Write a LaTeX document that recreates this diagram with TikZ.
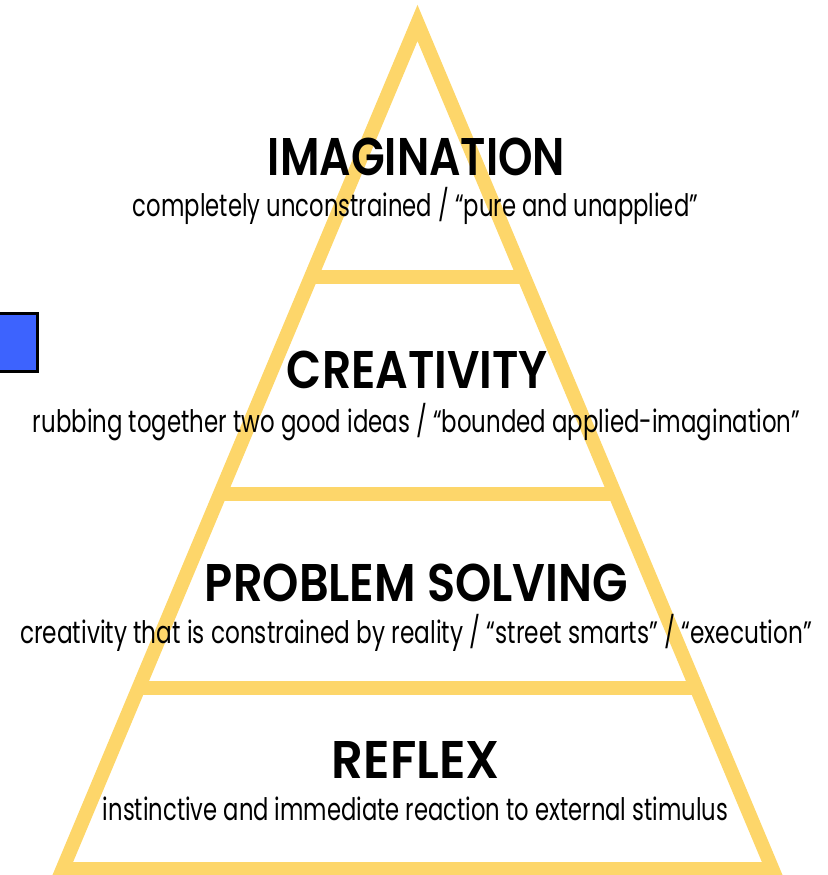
\documentclass[tikz,border=0pt]{standalone}
\usepackage{fontspec}
\usepackage{graphicx}
\setmainfont{Poppins}[BoldFont={Poppins SemiBold}]
\definecolor{pyr}{HTML}{FDD66A}
\definecolor{boxblue}{HTML}{3D63FE}
\newcommand\fitw[2]{\resizebox{#1}{\height}{#2}}
\tikzset{
  edge/.style={draw=pyr, line width=14pt, line join=miter, miter limit=10},
  bar/.style={draw=pyr, line width=14pt, line cap=butt},
  title/.style={anchor=base, inner sep=0pt, font=\fontsize{53}{53}\selectfont\bfseries},
  sub/.style={anchor=base, inner sep=0pt, font=\fontsize{31}{31}\selectfont},
}
\begin{document}
\begin{tikzpicture}[x=1pt, y=-1pt]
\useasboundingbox (0,0) rectangle (827,875);
\clip (0,0) rectangle (827,875);
\coordinate (apex) at (417.5,23);
\coordinate (bl) at (62.6,869);
\coordinate (br) at (772.4,869);
\coordinate (l1) at (310.9,277); \coordinate (r1) at (524.1,277);
\coordinate (l2) at (219.9,494); \coordinate (r2) at (615.1,494);
\coordinate (l3) at (138.5,688); \coordinate (r3) at (696.5,688);
\draw[edge] (bl) -- (apex) -- (br) -- cycle;
\draw[bar] (l1) -- (r1);
\draw[bar] (l2) -- (r2);
\draw[bar] (l3) -- (r3);
\node[draw=black, line width=3pt, fill=boxblue, minimum width=45pt, minimum height=58pt, inner sep=0pt] (blue) at (15,342.5) {};
\node[title] (t1) at (416.5,175) {\fitw{297pt}{IMAGINATION}};
\node[sub] (s1) at (415.5,216) {\fitw{565pt}{completely unconstrained / “pure and unapplied”}};
\node[title] (t2) at (417.5,388) {\fitw{261pt}{CREATIVITY}};
\node[sub] (s2) at (416.5,432) {\fitw{767pt}{rubbing together two good ideas / “bounded applied-imagination”}};
\node[title] (t3) at (416.5,601) {\fitw{423pt}{PROBLEM SOLVING}};
\node[sub] (s3) at (416,643) {\fitw{792pt}{creativity that is constrained by reality / “street smarts” / “execution”}};
\node[title] (t4) at (416,778) {\fitw{168pt}{REFLEX}};
\node[sub] (s4) at (415.5,820) {\fitw{625pt}{instinctive and immediate reaction to external stimulus}};
\end{tikzpicture}
\end{document}
